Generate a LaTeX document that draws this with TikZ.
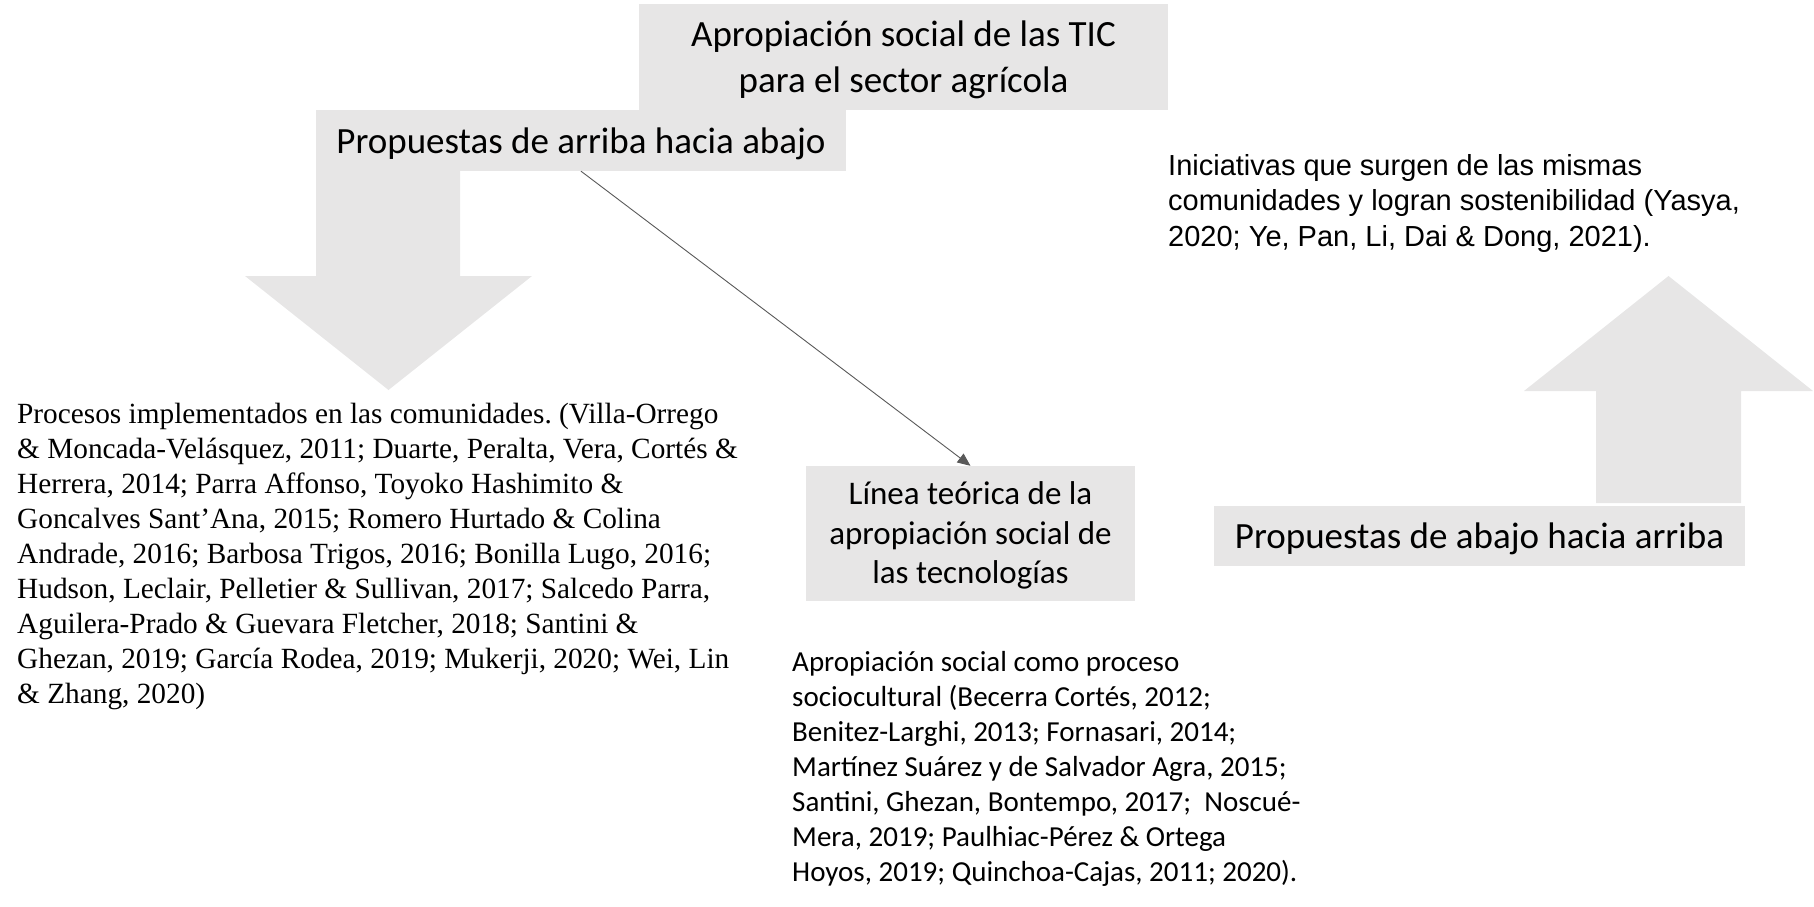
\documentclass[tikz,border=0pt]{standalone}
\usepackage{fontspec}
\setmainfont{Liberation Serif}
\newfontfamily\carl{Carlito}
\newfontfamily\arl{Liberation Sans}
\usetikzlibrary{arrows.meta}
\definecolor{boxgray}{RGB}{231,230,230}
\definecolor{conngray}{RGB}{89,89,89}
\frenchspacing
\begin{document}
\begin{tikzpicture}[x=1pt,y=-1pt,
  gbox/.style={fill=boxgray, inner sep=0pt},
  btext/.style={inner sep=0pt, align=center, text=black, yshift=-3pt},
  bigfont/.style={font=\carl\fontsize{37}{45.5}\selectfont},
  bigarrow/.style={fill=boxgray, draw=none},
  conn/.style={draw=conngray, line width=0.9pt, -{Triangle[length=13pt,width=11pt]}},
  para/.style={anchor=north west, inner sep=0pt, align=left, text=black}]
\useasboundingbox (0,0) rectangle (1814,907);
% big block arrows
\fill[bigarrow] (316,171) -- (460,171) -- (460,276) -- (532,276) -- (388.5,390) -- (245,276) -- (316,276) -- cycle;
\fill[bigarrow] (1596,503) -- (1741,503) -- (1741,391) -- (1813,391) -- (1668.5,276) -- (1524,391) -- (1596,391) -- cycle;
% boxes
\node[gbox, minimum width=529pt, minimum height=106pt] (top) at (903.5,57) {};
\node[btext, bigfont] (toptext) at (top.center) {Apropiación social de las TIC\\para el sector agrícola};
\node[gbox, minimum width=530pt, minimum height=61pt] (down) at (581,140.5) {};
\node[btext, bigfont] (downtext) at (down.center) {Propuestas de arriba hacia abajo};
\node[gbox, minimum width=329pt, minimum height=135pt] (linea) at (970.5,533.5) {};
\node[btext, font=\carl\fontsize{33}{39.5}\selectfont, yshift=1pt] (lineatext) at (linea.center) {Línea teórica de la\\apropiación social de\\las tecnologías};
\node[gbox, minimum width=531pt, minimum height=60pt] (up) at (1479.5,536) {};
\node[btext, bigfont] (uptext) at (up.center) {Propuestas de abajo hacia arriba};
% connector
\draw[conn] (down.south) -- (linea.north);
% paragraphs
\node[para, font=\fontsize{29.3}{35}\selectfont] (procesos) at (17,403) {Procesos implementados en las comunidades. (Villa-Orrego\\
\& Moncada-Velásquez, 2011; Duarte, Peralta, Vera, Cortés \&\\
Herrera, 2014; Parra Affonso, Toyoko Hashimito \&\\
Goncalves Sant’Ana, 2015; Romero Hurtado \& Colina\\
Andrade, 2016; Barbosa Trigos, 2016; Bonilla Lugo, 2016;\\
Hudson, Leclair, Pelletier \& Sullivan, 2017; Salcedo Parra,\\
Aguilera-Prado \& Guevara Fletcher, 2018; Santini \&\\
Ghezan, 2019; García Rodea, 2019; Mukerji, 2020; Wei, Lin\\
\& Zhang, 2020)};
\node[para, font=\arl\fontsize{29}{35.5}\selectfont] (iniciativas) at (1168,154) {Iniciativas que surgen de las mismas\\
comunidades y logran sostenibilidad (Yasya,\\
2020; Ye, Pan, Li, Dai \& Dong, 2021).};
\node[para, font=\carl\fontsize{29}{35}\selectfont] (sociocultural) at (792,651) {Apropiación social como proceso\\
sociocultural (Becerra Cortés, 2012;\\
Benitez-Larghi, 2013; Fornasari, 2014;\\
Martínez Suárez y de Salvador Agra, 2015;\\
Santini, Ghezan, Bontempo, 2017;\ \ Noscué-\\
Mera, 2019; Paulhiac-Pérez \& Ortega\\
Hoyos, 2019; Quinchoa-Cajas, 2011; 2020).};
\end{tikzpicture}
\end{document}
